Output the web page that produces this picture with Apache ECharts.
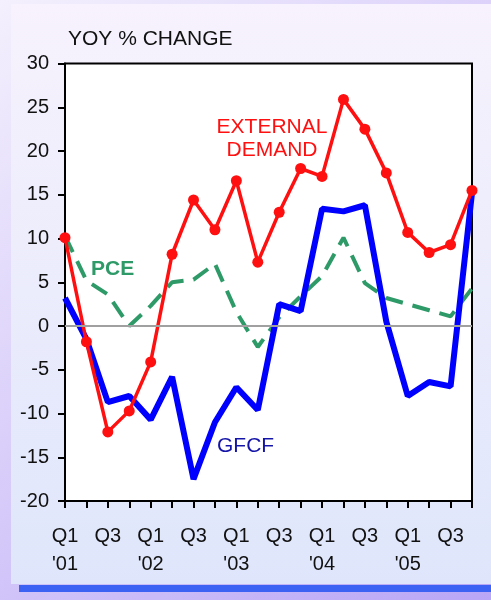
<!DOCTYPE html>
<html>
<head>
<meta charset="utf-8">
<script src="https://cdn.jsdelivr.net/npm/echarts@6/dist/echarts.min.js"></script>
<style>
  html, body { margin: 0; padding: 0; }
  #chart { width: 491px; height: 600px; }
</style>
</head>
<body>
<div id="chart"></div>
<script>
// quarters Q1 '01 .. Q4 '05
const quarters = [
  "Q1\n'01", 'Q2', 'Q3', 'Q4',
  "Q1\n'02", 'Q2', 'Q3', 'Q4',
  "Q1\n'03", 'Q2', 'Q3', 'Q4',
  "Q1\n'04", 'Q2', 'Q3', 'Q4',
  "Q1\n'05", 'Q2', 'Q3', 'Q4'
]

// yoy % change
const externalDemand = [10.1, -1.8, -12.1, -9.7, -4.1, 8.2, 14.4, 11.0, 16.6, 7.3, 13.0, 18.0, 17.1, 25.9, 22.5, 17.5, 10.7, 8.4, 9.3, 15.5]
const gfcf = [3.2, -1.5, -8.7, -8.0, -10.7, -5.8, -17.5, -11.0, -7.0, -9.6, 2.5, 1.7, 13.4, 13.1, 13.8, 0.5, -8.0, -6.4, -6.9, 15.2]
const pce = [10.3, 5.2, 3.6, 0.0, 2.3, 5.0, 5.3, 7.1, 1.6, -2.4, 1.0, 3.4, 5.7, 10.1, 4.9, 3.2, 2.5, 1.8, 1.1, 4.3]

const yTicks = { min: -20, max: 30, interval: 5 }

const chart = echarts.init(document.getElementById('chart'))
const font = 'Liberation Sans, Arial, sans-serif'

const option = {
  animation: false,
  backgroundColor: {
    type: 'linear', x: 0, y: 0, x2: 1, y2: 1,
    colorStops: [
      { offset: 0, color: '#f4f0fd' },
      { offset: 1, color: '#b9a6f6' }
    ]
  },
  graphic: [
    {
      type: 'rect', z: -10,
      shape: { x: 19, y: 585, width: 472, height: 7 },
      style: { fill: '#3b62f2' }
    },
    {
      type: 'rect', z: -10,
      shape: { x: 11, y: 4, width: 480, height: 580 },
      style: {
        fill: {
          type: 'linear', x: 0, y: 0, x2: 0, y2: 1,
          colorStops: [
            { offset: 0, color: '#f7f2fd' },
            { offset: 1, color: '#dfe6fb' }
          ]
        }
      }
    },
    {
      type: 'text', x: 68, y: 39,
      style: { text: 'YOY % CHANGE', font: '21px ' + font, fill: '#111', verticalAlign: 'middle' }
    },
    {
      type: 'text', x: 272, y: 139,
      style: {
        text: 'EXTERNAL\nDEMAND', font: '21px ' + font, fill: '#ff1010',
        align: 'center', verticalAlign: 'middle', lineHeight: 23
      }
    },
    {
      type: 'text', x: 91, y: 269,
      style: { text: 'PCE', font: 'bold 21px ' + font, fill: '#2e9a68', verticalAlign: 'middle' }
    },
    {
      type: 'text', x: 217, y: 446,
      style: { text: 'GFCF', font: '21px ' + font, fill: '#1414a8', verticalAlign: 'middle' }
    }
  ],
  grid: {
    left: 65, right: 19, top: 63.5, bottom: 99,
    show: true, backgroundColor: '#fff', borderColor: '#000', borderWidth: 2
  },
  xAxis: {
    type: 'category',
    data: quarters,
    boundaryGap: false,
    axisLine: { onZero: false, lineStyle: { color: '#000', width: 2 } },
    axisTick: { show: true, interval: 0, length: 7, lineStyle: { color: '#000', width: 2 } },
    axisLabel: {
      interval: 1, margin: 21, color: '#111', fontSize: 20, fontFamily: font,
      lineHeight: 28, align: 'center'
    },
    splitLine: { show: false }
  },
  yAxis: {
    type: 'value',
    min: yTicks.min, max: yTicks.max, interval: yTicks.interval,
    axisLine: { show: true, lineStyle: { color: '#000', width: 2 } },
    axisTick: { show: true, length: 7, lineStyle: { color: '#000', width: 2 } },
    axisLabel: { margin: 16, color: '#111', fontSize: 20, fontFamily: font },
    splitLine: { show: false }
  },
  series: [
    {
      name: 'PCE', type: 'line', data: pce, z: 2,
      symbol: 'none',
      lineStyle: { color: '#2e9a68', width: 4, type: [18, 10] },
      markLine: {
        silent: true, symbol: 'none', label: { show: false },
        lineStyle: { color: '#a0a0a0', width: 2, type: 'solid' },
        data: [{ yAxis: 0 }]
      }
    },
    {
      name: 'GFCF', type: 'line', data: gfcf, z: 3,
      symbol: 'none',
      lineStyle: { color: '#0000ff', width: 6 }
    },
    {
      name: 'External demand', type: 'line', data: externalDemand, z: 4,
      symbol: 'circle', symbolSize: 11,
      itemStyle: { color: '#ff1010' },
      lineStyle: { color: '#ff1010', width: 3.5 }
    }
  ]
}

chart.setOption(option)
</script>
</body>
</html>
